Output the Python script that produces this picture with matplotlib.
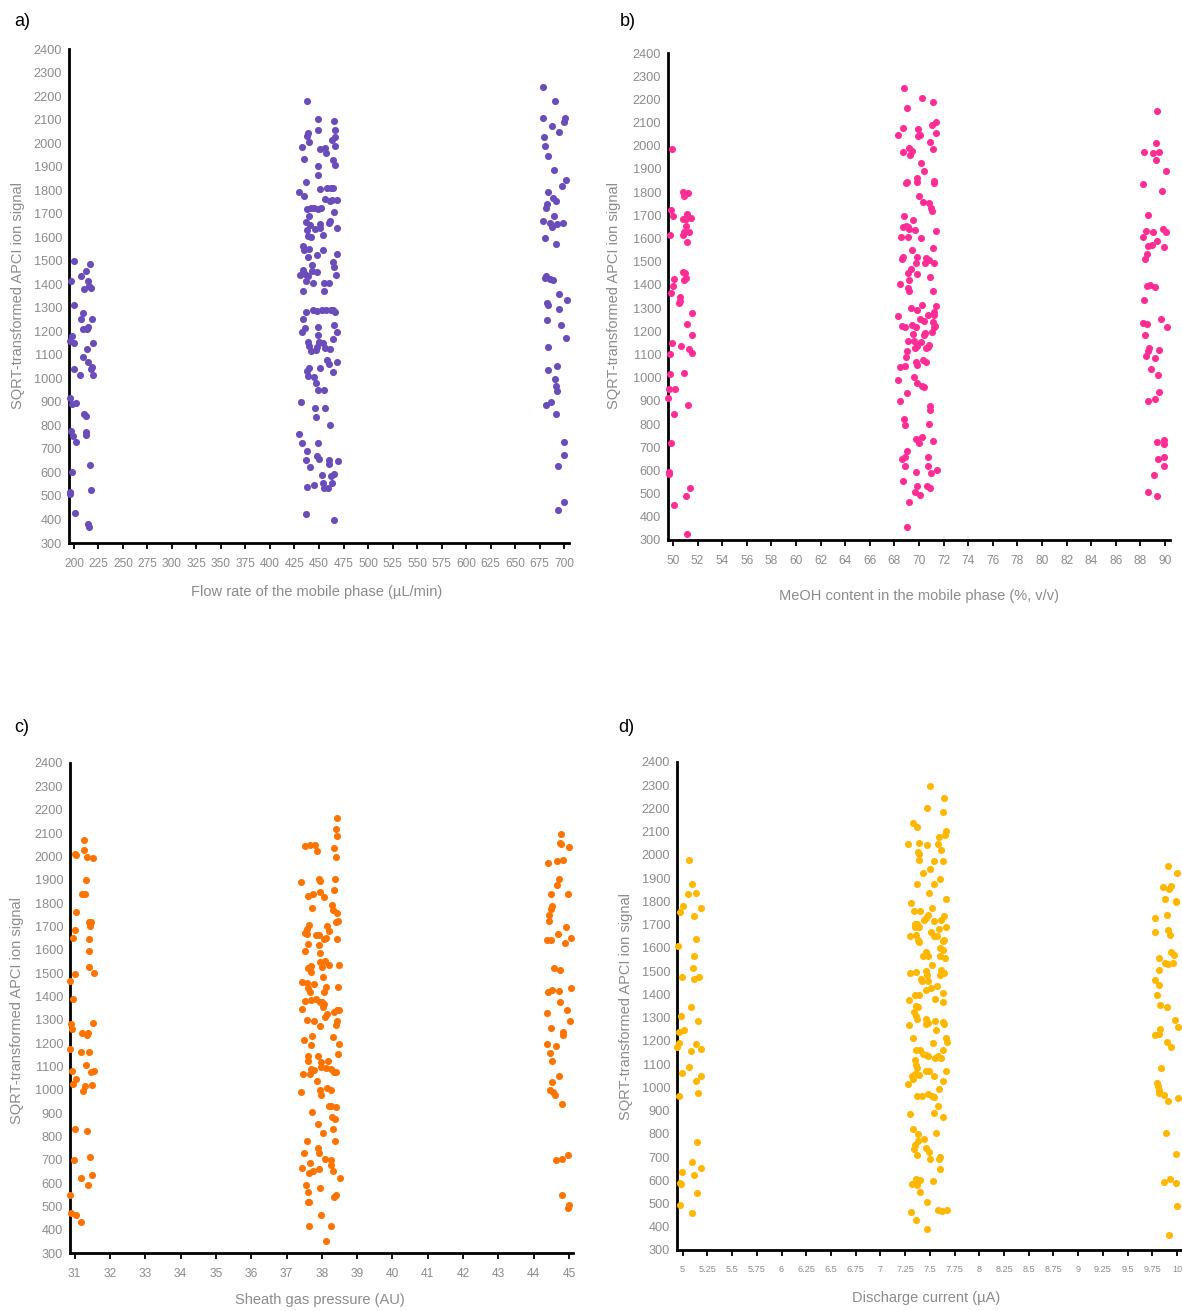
import matplotlib
matplotlib.use("Agg")
import matplotlib.pyplot as plt
from matplotlib import font_manager

# ---------------- data ----------------
flow_x = [
    200.3, 216.3, 212.2, 207.5, 196.9, 214.3, 215.6, 217.0, 210.5, 199.6, 209.5, 207.5, 218.7,
    214.6, 209.2, 213.6, 198.0, 196.2, 200.0, 219.4, 212.9, 209.5, 214.6, 200.0, 218.7, 217.7,
    206.4, 219.0, 195.6, 197.6, 202.0, 210.5, 211.9, 196.9, 199.3, 211.9, 212.2, 201.7, 216.0,
    198.0, 217.3, 195.9, 196.2, 201.3, 214.6, 215.0,
    437.3, 448.9, 465.2, 448.9, 465.9, 439.0, 437.3, 439.7, 466.5, 463.1, 466.5, 432.5, 450.9,
    456.0, 456.7, 434.6, 464.5, 465.9, 448.9, 448.9, 437.0, 450.9, 458.4, 461.8, 464.5, 429.1,
    434.6, 456.0, 461.1, 463.5, 467.9, 437.3, 441.4, 444.8, 448.5, 452.3, 440.0, 465.5, 436.6,
    459.7, 461.4, 440.7, 446.1, 450.6, 450.9, 467.9, 438.0, 439.0, 441.4, 453.6, 433.6, 434.9,
    440.0, 438.7, 448.2, 454.0, 467.9, 464.5, 465.2, 443.1, 442.7, 447.5, 430.2, 433.6, 435.6,
    439.0, 467.6, 436.3, 443.4, 455.3, 460.4, 433.9, 455.0, 436.6, 444.1, 448.2, 452.6, 457.0,
    461.8, 464.5, 466.2, 433.9, 448.5, 464.8, 435.3, 432.5, 448.5, 467.9, 464.5, 439.0, 449.5,
    439.3, 453.6, 441.4, 446.8, 447.8, 456.3, 461.1, 457.7, 460.4, 467.9, 464.5, 440.0, 437.3,
    439.0, 451.2, 444.8, 446.8, 449.2, 455.0, 431.2, 445.8, 456.0, 446.8, 461.1, 429.5, 432.9,
    448.5, 437.6, 447.8, 449.5, 436.6, 459.7, 459.7, 468.9, 440.7, 452.9, 461.8, 465.2, 463.1,
    453.6, 438.0, 444.8, 455.3, 459.1, 436.6, 465.2,
    678.7, 690.9, 678.7, 700.8, 699.8, 687.9, 695.0, 679.4, 680.7, 684.1, 689.6, 702.5, 698.1,
    683.5, 688.9, 691.6, 682.8, 682.1, 678.7, 685.5, 689.6, 687.5, 693.0, 699.1, 680.7, 692.0,
    680.4, 682.1, 685.5, 688.9, 694.7, 702.8, 682.8, 683.8, 695.0, 682.8, 697.4, 701.8, 684.1,
    683.8, 693.3, 690.9, 691.6, 692.6, 687.2, 682.1, 692.0, 700.1, 700.5, 694.0, 699.8, 693.7,
]
flow_y = [
    1499, 1487, 1456, 1433, 1412, 1412, 1391, 1385, 1378, 1310, 1279, 1253, 1253,
    1220, 1209, 1209, 1179, 1158, 1149, 1151, 1124, 1090, 1071, 1041, 1050, 1039,
    1014, 1014, 915, 891, 894, 848, 840, 777, 756, 772, 757, 730, 631,
    603, 527, 517, 507, 426, 382, 368,
    2179, 2103, 2094, 2056, 2056, 2041, 2032, 2003, 2027, 2013, 1989, 1983, 1973,
    1978, 1960, 1932, 1928, 1907, 1902, 1864, 1835, 1803, 1807, 1807, 1811, 1793,
    1776, 1764, 1755, 1757, 1757, 1718, 1723, 1726, 1718, 1723, 1689, 1705, 1665,
    1662, 1668, 1651, 1634, 1655, 1641, 1639, 1630, 1605, 1601, 1610, 1563, 1544,
    1549, 1516, 1526, 1544, 1529, 1495, 1473, 1480, 1456, 1451, 1441, 1459, 1445,
    1434, 1441, 1412, 1405, 1405, 1405, 1371, 1371, 1282, 1289, 1286, 1289, 1289,
    1291, 1291, 1282, 1252, 1218, 1225, 1213, 1195, 1185, 1196, 1168, 1154, 1154,
    1139, 1149, 1118, 1121, 1135, 1128, 1125, 1076, 1061, 1068, 1026, 1043, 1030,
    1012, 1043, 1005, 980, 951, 951, 901, 874, 874, 837, 803, 763, 727,
    727, 692, 668, 656, 652, 652, 635, 647, 624, 590, 585, 595, 557,
    557, 539, 546, 533, 533, 425, 397,
    2237, 2181, 2105, 2105, 2088, 2073, 2049, 2027, 1987, 1946, 1885, 1845, 1817,
    1791, 1767, 1755, 1743, 1726, 1669, 1662, 1689, 1644, 1655, 1662, 1597, 1573,
    1426, 1436, 1424, 1419, 1358, 1334, 1320, 1310, 1294, 1249, 1228, 1171, 1135,
    1036, 1051, 996, 969, 945, 901, 885, 848, 730, 674, 628, 473, 439,
]

meoh_x = [
    49.94, 50.81, 50.92, 51.24, 49.83, 50.00, 50.78, 51.08, 51.13, 51.48, 51.08, 49.73, 50.81,
    50.89, 51.32, 51.16, 50.81, 50.97, 51.08, 50.94, 50.05, 50.00, 49.83, 50.54, 50.51, 50.56,
    51.54, 51.13, 51.51, 49.94, 50.67, 51.32, 51.51, 49.75, 49.78, 50.92, 49.65, 50.13, 49.59,
    51.24, 50.08, 49.83, 49.67, 49.65, 51.35, 51.05, 50.08, 51.16,
    68.78, 70.22, 71.13, 69.03, 71.35, 71.08, 68.68, 69.95, 70.05, 69.89, 71.35, 68.27, 70.92,
    69.19, 69.40, 68.70, 69.24, 71.13, 70.16, 70.43, 69.03, 68.92, 69.84, 69.84, 71.19, 71.22,
    70.00, 70.35, 70.84, 70.95, 71.08, 68.78, 69.51, 68.70, 68.97, 69.14, 69.22, 69.68, 71.35,
    68.51, 69.14, 70.13, 71.13, 69.40, 68.68, 68.65, 69.84, 69.73, 70.59, 70.78, 70.51, 71.24,
    69.32, 69.14, 69.84, 69.22, 70.89, 68.43, 69.08, 69.19, 71.11, 69.38, 69.81, 70.27, 71.38,
    68.32, 70.76, 71.19, 71.22, 70.08, 70.41, 68.65, 68.89, 69.40, 69.78, 71.11, 71.19, 71.30,
    71.08, 69.49, 70.41, 70.51, 69.11, 69.62, 70.13, 69.84, 69.70, 70.81, 70.57, 70.76, 69.05,
    68.92, 69.73, 69.81, 70.35, 70.57, 68.49, 68.89, 69.57, 68.30, 69.86, 70.27, 70.43, 69.05,
    68.43, 70.86, 70.92, 70.81, 68.78, 68.89, 69.76, 70.00, 70.27, 71.13, 69.03, 68.60, 68.89,
    68.86, 70.73, 70.70, 69.78, 70.97, 71.46, 68.73, 69.84, 70.68, 70.86, 69.70, 70.05, 69.22,
    69.00,
    89.33, 89.27, 88.27, 89.03, 89.52, 89.24, 90.06, 88.22, 89.76, 88.65, 88.49, 88.98, 88.22,
    89.87, 90.11, 89.33, 88.60, 88.95, 89.89, 88.52, 88.38, 88.57, 88.76, 89.16, 88.27, 88.22,
    88.54, 89.68, 90.14, 88.38, 88.71, 88.60, 89.49, 88.49, 89.22, 88.87, 89.41, 89.52, 88.65,
    89.19, 89.33, 89.95, 89.89, 89.43, 89.95, 89.89, 89.06, 88.65, 89.38,
]
meoh_y = [
    1985, 1802, 1785, 1795, 1723, 1699, 1683, 1683, 1705, 1690, 1654, 1617, 1614,
    1626, 1627, 1585, 1456, 1450, 1429, 1420, 1426, 1396, 1367, 1350, 1321, 1330,
    1281, 1233, 1183, 1151, 1138, 1123, 1108, 1101, 1016, 1018, 950, 953, 914,
    880, 845, 720, 595, 584, 525, 490, 450, 328,
    2250, 2207, 2187, 2161, 2101, 2090, 2078, 2074, 2046, 2042, 2057, 2045, 2018,
    1992, 1978, 1973, 1962, 1985, 1927, 1893, 1845, 1841, 1861, 1844, 1848, 1841,
    1784, 1756, 1752, 1730, 1720, 1697, 1680, 1651, 1654, 1651, 1641, 1636, 1633,
    1607, 1608, 1604, 1559, 1549, 1519, 1511, 1522, 1496, 1515, 1508, 1493, 1493,
    1469, 1453, 1447, 1421, 1433, 1406, 1386, 1375, 1373, 1302, 1292, 1312, 1308,
    1268, 1269, 1269, 1285, 1252, 1243, 1223, 1217, 1228, 1220, 1238, 1217, 1223,
    1197, 1189, 1182, 1192, 1156, 1160, 1154, 1137, 1127, 1141, 1130, 1131, 1113,
    1091, 1069, 1055, 1075, 1069, 1044, 1051, 1002, 989, 976, 962, 959, 933,
    900, 878, 861, 801, 821, 796, 735, 717, 746, 729, 684, 650, 657,
    620, 659, 617, 595, 588, 600, 555, 534, 532, 525, 505, 496, 462,
    354,
    2150, 2013, 1975, 1970, 1975, 1939, 1893, 1837, 1804, 1702, 1633, 1628, 1605,
    1640, 1630, 1590, 1568, 1574, 1562, 1534, 1511, 1396, 1398, 1391, 1337, 1235,
    1230, 1252, 1217, 1184, 1130, 1113, 1120, 1094, 1085, 1036, 1011, 940, 900,
    909, 722, 732, 715, 650, 660, 618, 581, 508, 490,
]

sheath_x = [
    31.28, 31.01, 31.04, 31.28, 31.34, 31.52, 31.32, 31.20, 31.29, 31.05, 31.41, 31.46, 31.43,
    31.01, 30.96, 31.40, 31.41, 31.42, 31.54, 31.00, 30.88, 30.96, 30.91, 30.93, 31.53, 31.20,
    31.37, 31.35, 30.87, 31.17, 31.42, 31.33, 30.93, 31.46, 31.54, 31.05, 30.95, 31.30, 31.25,
    31.48, 31.00, 31.34, 30.99, 31.45, 31.19, 31.48, 31.38, 30.87, 30.89, 31.04, 31.18,
    38.42, 38.41, 38.43, 37.53, 37.66, 37.82, 37.85, 38.35, 38.41, 37.41, 37.93, 37.95, 38.38,
    38.33, 37.60, 37.74, 37.96, 38.07, 38.28, 38.31, 37.72, 38.42, 38.46, 38.41, 37.65, 37.59,
    37.53, 37.57, 38.14, 38.21, 37.83, 37.93, 38.05, 38.12, 38.42, 37.62, 37.91, 37.53, 37.95,
    37.96, 38.09, 38.21, 38.48, 37.62, 37.69, 37.69, 37.99, 38.04, 37.43, 37.58, 37.77, 37.60,
    38.11, 38.07, 37.67, 38.47, 37.52, 37.69, 37.83, 37.95, 38.00, 38.07, 38.02, 37.45, 38.33,
    38.42, 38.48, 38.09, 38.14, 37.58, 37.79, 37.94, 38.42, 38.39, 37.71, 37.49, 38.32, 37.69,
    38.48, 37.60, 37.88, 38.47, 37.60, 37.98, 38.18, 37.69, 37.97, 37.78, 38.12, 38.27, 38.33,
    38.39, 37.48, 37.67, 37.86, 37.41, 37.94, 38.14, 38.27, 37.97, 37.73, 38.19, 38.27, 38.41,
    38.28, 38.37, 37.89, 38.32, 38.02, 37.58, 38.37, 37.89, 37.93, 37.50, 38.10, 38.26, 38.25,
    37.67, 37.45, 37.91, 37.63, 37.74, 38.31, 38.51, 37.56, 37.94, 37.60, 38.39, 38.35, 37.62,
    37.65, 37.98, 37.65, 38.25, 38.13,
    44.76, 44.74, 44.77, 44.99, 44.39, 44.65, 44.84, 44.71, 44.67, 44.50, 44.97, 44.52, 44.49,
    44.43, 44.43, 44.91, 44.69, 44.37, 44.48, 45.05, 44.89, 44.57, 44.75, 44.40, 44.51, 44.72,
    45.05, 44.73, 44.95, 44.375, 45.02, 44.49, 44.83, 44.84, 44.375, 44.63, 44.47, 44.52, 44.72,
    44.52, 44.46, 44.54, 44.59, 44.79, 44.63, 44.80, 44.97, 44.79, 44.99, 44.97,
]
sheath_y = [
    2069, 2012, 2006, 2029, 1999, 1993, 1900, 1840, 1840, 1760, 1720, 1717, 1700,
    1686, 1652, 1644, 1593, 1527, 1501, 1494, 1467, 1390, 1280, 1260, 1286, 1241,
    1243, 1234, 1174, 1161, 1161, 1104, 1081, 1077, 1081, 1046, 1026, 1014, 996,
    1020, 833, 823, 697, 710, 623, 634, 593, 549, 471, 463, 433,
    2164, 2117, 2089, 2046, 2047, 2050, 2024, 2034, 1996, 1889, 1904, 1893, 1902,
    1857, 1831, 1840, 1846, 1824, 1791, 1769, 1777, 1757, 1723, 1720, 1706, 1690,
    1673, 1667, 1703, 1679, 1664, 1664, 1644, 1649, 1644, 1624, 1620, 1594, 1586,
    1546, 1550, 1536, 1536, 1520, 1531, 1506, 1524, 1481, 1463, 1457, 1454, 1436,
    1441, 1420, 1417, 1440, 1380, 1384, 1387, 1374, 1376, 1369, 1354, 1346, 1333,
    1341, 1343, 1311, 1323, 1300, 1293, 1273, 1293, 1276, 1231, 1213, 1226, 1190,
    1197, 1143, 1146, 1154, 1121, 1117, 1121, 1090, 1097, 1086, 1094, 1089, 1074,
    1077, 1069, 1067, 1039, 991, 1000, 1006, 1000, 979, 903, 929, 929, 924,
    883, 873, 853, 833, 814, 779, 779, 749, 729, 729, 703, 700, 679,
    686, 666, 661, 641, 650, 651, 620, 593, 580, 563, 549, 541, 520,
    517, 464, 417, 417, 351,
    2097, 2057, 2053, 2039, 1971, 1981, 1984, 1903, 1879, 1837, 1840, 1786, 1774,
    1750, 1721, 1697, 1667, 1643, 1641, 1649, 1629, 1523, 1511, 1419, 1427, 1423,
    1437, 1374, 1340, 1327, 1293, 1266, 1246, 1234, 1194, 1187, 1156, 1121, 1060,
    1031, 1000, 991, 977, 937, 697, 703, 721, 550, 507, 493,
]

current_x = [
    5.063, 5.094, 5.057, 5.131, 5.006, 4.976, 5.185, 5.114, 5.137, 4.949, 5.110, 5.107, 4.993,
    5.117, 5.161, 5.080, 4.986, 5.154, 5.009, 4.966, 4.959, 4.942, 5.137, 5.087, 5.185, 5.063,
    4.996, 5.188, 5.134, 5.158, 4.959, 5.141, 5.090, 5.181, 4.996, 5.110, 4.969, 4.986, 5.148,
    4.969, 5.097,
    7.503, 7.645, 7.476, 7.638, 7.331, 7.375, 7.668, 7.651, 7.594, 7.281, 7.389, 7.476, 7.581,
    7.614, 7.385, 7.392, 7.389, 7.544, 7.638, 7.432, 7.500, 7.601, 7.368, 7.547, 7.489, 7.668,
    7.314, 7.335, 7.399, 7.517, 7.486, 7.463, 7.436, 7.641, 7.544, 7.611, 7.345, 7.375, 7.392,
    7.352, 7.298, 7.358, 7.513, 7.547, 7.571, 7.668, 7.594, 7.382, 7.392, 7.635, 7.645, 7.604,
    7.638, 7.426, 7.459, 7.479, 7.604, 7.655, 7.523, 7.301, 7.358, 7.459, 7.476, 7.611, 7.648,
    7.601, 7.412, 7.419, 7.479, 7.510, 7.571, 7.459, 7.345, 7.392, 7.631, 7.291, 7.554, 7.631,
    7.362, 7.382, 7.335, 7.358, 7.375, 7.466, 7.479, 7.557, 7.638, 7.645, 7.459, 7.291, 7.567,
    7.325, 7.665, 7.675, 7.530, 7.358, 7.399, 7.432, 7.459, 7.483, 7.635, 7.581, 7.557, 7.611,
    7.352, 7.365, 7.375, 7.318, 7.352, 7.395, 7.331, 7.281, 7.459, 7.489, 7.540, 7.668, 7.631,
    7.594, 7.375, 7.422, 7.483, 7.520, 7.547, 7.587, 7.304, 7.540, 7.635, 7.331, 7.382, 7.439,
    7.564, 7.378, 7.345, 7.341, 7.463, 7.496, 7.368, 7.503, 7.594, 7.601, 7.601, 7.358, 7.399,
    7.321, 7.368, 7.527, 7.402, 7.476, 7.311, 7.587, 7.621, 7.678, 7.358, 7.469,
    9.909, 9.997, 9.859, 9.936, 9.919, 9.882, 9.994, 9.987, 9.774, 9.903, 9.781, 9.913, 9.926,
    9.815, 9.943, 9.970, 9.876, 9.909, 9.960, 9.822, 9.774, 9.815, 9.798, 9.828, 9.899, 9.980,
    10.007, 9.828, 9.818, 9.774, 9.899, 9.936, 9.842, 9.798, 9.808, 9.818, 9.815, 9.866, 9.913,
    10.007, 9.886, 9.994, 9.866, 9.929, 9.994, 9.997, 9.923,
]
current_y = [
    1977, 1875, 1834, 1838, 1779, 1756, 1771, 1739, 1640, 1607, 1566, 1514, 1474,
    1465, 1474, 1346, 1307, 1284, 1247, 1236, 1191, 1174, 1185, 1158, 1164, 1089,
    1063, 1048, 1029, 974, 961, 766, 680, 652, 634, 624, 588, 583, 544,
    495, 458,
    2296, 2247, 2204, 2185, 2138, 2121, 2102, 2085, 2078, 2045, 2052, 2042, 2045,
    2020, 2013, 2006, 1977, 1973, 1974, 1924, 1939, 1895, 1874, 1877, 1837, 1809,
    1795, 1758, 1759, 1772, 1741, 1730, 1719, 1738, 1715, 1719, 1705, 1702, 1690,
    1690, 1652, 1657, 1669, 1652, 1652, 1690, 1683, 1633, 1626, 1630, 1636, 1600,
    1593, 1566, 1583, 1566, 1566, 1557, 1528, 1492, 1498, 1499, 1482, 1507, 1494,
    1484, 1468, 1456, 1456, 1428, 1434, 1418, 1399, 1396, 1408, 1376, 1378, 1367,
    1352, 1346, 1324, 1307, 1296, 1294, 1277, 1286, 1283, 1274, 1274, 1270, 1246,
    1213, 1213, 1195, 1192, 1159, 1159, 1145, 1138, 1135, 1162, 1135, 1128, 1125,
    1118, 1098, 1083, 1048, 1056, 1055, 1038, 1016, 1070, 1070, 1050, 1069, 1027,
    993, 964, 963, 970, 964, 960, 918, 884, 891, 871, 822, 798, 779,
    805, 768, 751, 736, 739, 720, 707, 690, 693, 700, 649, 606, 603,
    586, 581, 596, 550, 507, 464, 471, 468, 471, 431, 392,
    1951, 1923, 1864, 1865, 1854, 1809, 1801, 1798, 1729, 1741, 1669, 1679, 1657,
    1557, 1583, 1568, 1535, 1530, 1535, 1504, 1464, 1442, 1396, 1353, 1346, 1289,
    1260, 1253, 1231, 1224, 1195, 1174, 1083, 1019, 1005, 987, 976, 966, 941,
    953, 805, 712, 593, 606, 588, 489, 365,
]

flow_ticks = list(range(200, 701, 25))
meoh_ticks = list(range(50, 91, 2))
sheath_ticks = list(range(31, 46))
current_ticks = [5 + 0.25 * i for i in range(21)]
signal_ticks = list(range(300, 2401, 100))

y_label = "SQRT-transformed APCI ion signal"
# rect: left, top, right, bottom of each plotting area in figure pixels;
# xl / yl: centre of the x-axis and y-axis titles in figure pixels
panels = [
    dict(tag="a)", tagpos=(14, 22), x=flow_x, y=flow_y, color="#6A4DBB", xticks=flow_ticks,
         xlim=(194.9, 705.1), xlabel="Flow rate of the mobile phase (\u00b5L/min)",
         rect=[69, 49, 569, 543], tfs=8.6, xl=(317, 592), yl=(18, 295)),
    dict(tag="b)", tagpos=(620, 22), x=meoh_x, y=meoh_y, color="#FF2D95", xticks=meoh_ticks,
         xlim=(49.6, 90.4), xlabel="MeOH content in the mobile phase (%, v/v)",
         rect=[668, 53, 1170, 540], tfs=8.6, xl=(919, 596), yl=(614, 295)),
    dict(tag="c)", tagpos=(14, 728), x=sheath_x, y=sheath_y, color="#FF7300", xticks=sheath_ticks,
         xlim=(30.87, 45.11), xlabel="Sheath gas pressure (AU)",
         rect=[70, 763, 573, 1253], tfs=8.6, xl=(320, 1300), yl=(17, 1010)),
    dict(tag="d)", tagpos=(618, 728), x=current_x, y=current_y, color="#FFB700",
         xticks=current_ticks, xlim=(4.943, 10.04), xlabel="Discharge current (\u00b5A)",
         rect=[677, 762, 1181, 1250], tfs=6.6, xl=(926, 1298), yl=(626, 1006)),
]

# ---------------- styling ----------------
available = {f.name for f in font_manager.fontManager.ttflist}
narrow = "Liberation Sans Narrow" if "Liberation Sans Narrow" in available else "Liberation Sans"
plt.rcParams["font.family"] = ["Liberation Sans", "DejaVu Sans"]
grey = "#8c8c8c"

W, H = 1182, 1311
fig = plt.figure(figsize=(W / 100, H / 100), dpi=100)

for p in panels:
    l, t, r, b = p["rect"]
    ax = fig.add_axes([l / W, 1 - b / H, (r - l) / W, (b - t) / H])
    ax.scatter(p["x"], p["y"], s=26, color=p["color"], linewidths=0, zorder=3, clip_on=False)
    ax.set_xlim(*p["xlim"])
    ax.set_ylim(300, 2400)
    ax.set_yticks(signal_ticks)
    ax.set_yticklabels([str(v) for v in signal_ticks], fontfamily=narrow, fontsize=9.2, color=grey)
    ax.set_xticks(p["xticks"])
    ax.set_xticklabels([f"{v:g}" for v in p["xticks"]], fontfamily=narrow,
                       fontsize=p["tfs"], color=grey)
    ax.tick_params(axis="y", length=0, pad=5)
    ax.tick_params(axis="x", length=4, width=1.3, color="black", pad=7, direction="out")
    for side in ("top", "right"):
        ax.spines[side].set_visible(False)
    for side in ("left", "bottom"):
        ax.spines[side].set_linewidth(2.0)
        ax.spines[side].set_color("black")
    ax.patch.set_visible(False)

    fig.text(p["xl"][0] / W, 1 - p["xl"][1] / H, p["xlabel"], fontsize=10.5, color=grey,
             ha="center", va="center")
    fig.text(p["yl"][0] / W, 1 - p["yl"][1] / H, y_label, fontsize=10.5, color=grey,
             ha="center", va="center", rotation=90)
    fig.text(p["tagpos"][0] / W, 1 - p["tagpos"][1] / H, p["tag"], fontsize=13,
             va="center", ha="left")

fig.savefig("out.png", dpi=100, facecolor="white")
